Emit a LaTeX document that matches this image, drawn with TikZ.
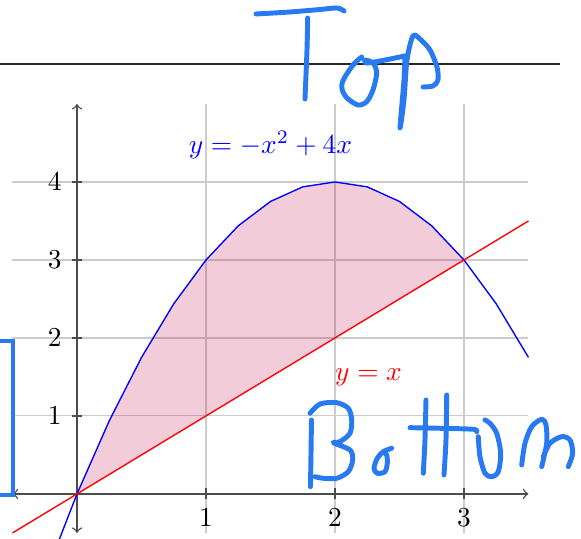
\documentclass[tikz,border=0pt]{standalone}
\usepackage{amsmath}
\definecolor{ink}{RGB}{40,122,240}
\tikzset{
  grd/.style    ={draw=black!20, line width=0.4pt},
  axs/.style    ={black!70, line width=0.5pt},
  crv/.style    ={line width=0.5pt},
  region/.style ={fill=purple, fill opacity=0.2},
  hand/.style   ={ink, line width=1.8pt, line cap=round, line join=round},
  rule/.style   ={black!85, line width=0.6pt},
}

\begin{document}
\begin{tikzpicture}[x=1.654cm, y=1cm]
  \useasboundingbox (-0.5969,-0.5769) rectangle (3.907,6.3333);
  \clip (-0.5969,-0.5769) rectangle (3.907,6.3333);

  % grid and the region between the two curves
  \foreach \i in {1,2,3}
    \draw[grd] (\i,-0.5) -- (\i,5);
  \foreach \i in {1,...,4}
    \draw[grd] (-0.5,\i) -- (3.5,\i);
  \fill[region] (0,0) -- plot[domain=0:3, samples=13] (\x,{-\x*\x+4*\x}) -- cycle;

  % axes with ticks
  \draw[axs,<->] (-0.5,0) -- (3.5,0);
  \draw[axs,<->] (0,-0.5) -- (0,5);
  \foreach \i in {1,2,3}
    \draw[axs] (\i,0) ++(0pt,2pt) -- ++(0pt,-4pt) node[below, black] (xt\i) {$\i$};
  \foreach \i in {1,...,4}
    \draw[axs] (0,\i) ++(2pt,0pt) -- ++(-4pt,0pt) node[left, black] (yt\i) {$\i$};

  % curves
  \draw[crv, blue] plot[domain=-0.25:3.5, samples=16] (\x,{-\x*\x+4*\x});
  \draw[crv, red] (-0.5,-0.5) -- (3.5,3.5);
  \node[blue] (parab) at (1.5,4.47) {$y=-x^2+4x$};
  \node[red]  (diag)  at (2.26,1.5) {$y=x$};

  % annotations, in pixel units of the page
  \begin{scope}[shift={(-0.5969,6.3333)}, x=0.3648pt, y=-0.3648pt]
    \draw[rule] (-5,64.3) -- (560,64.3);
    \draw[ink, line width=1.5pt] (-20,340.7) rectangle (13.3,495);

    % Top
    \draw[hand] plot[smooth] coordinates {(256,14) (290,12) (320,9.5) (337,8) (344,11)};
    \draw[hand] plot[smooth] coordinates {(307.7,18) (307,50) (305,99)};
    \draw[hand] plot[smooth] coordinates {(361.7,57) (353,65) (343.3,80) (342,89) (347,98)
      (358,105) (366.7,101.7) (373,90) (376.7,73) (373,63) (365,60) (366,63)
      (380,61) (405,56)};
    \draw[hand] plot[smooth] coordinates {(405,56) (404,80) (400,128) (404,100) (407,60)
      (413,36) (420,39) (430,50) (437,67) (438,80) (433,86) (423,87)};

    % Bottom
    \draw[hand] plot[smooth] coordinates {(311.5,420) (311,455) (310.5,486.7)};
    \draw[hand] plot[smooth] coordinates {(310,413.3) (320,404) (336.7,402.7) (348.3,408.3)
      (351.7,420) (350,433.3) (340,441.7) (333.3,442.7) (350,450) (352.7,460)
      (348.3,471.7) (336.7,478.3) (323.3,478.3) (315,476.7)};
    \draw[hand] plot[smooth] coordinates {(391.7,448.3) (383.3,451.7) (377.3,458.3) (374,468.3)
      (377.3,473.3) (385,471.7) (387.3,463.3) (386.7,455) (383.3,451.7)};
    \draw[hand] plot[smooth] coordinates {(426,400) (425,440) (423.3,473.3)};
    \draw[hand] plot[smooth] coordinates {(446.7,395) (446,440) (444,475)};
    \draw[hand] plot[smooth] coordinates {(410,427.7) (440,428.3) (473.3,429.3) (476.7,431.7)};
    \draw[hand] plot[smooth] coordinates {(478.3,436.7) (480,456.7) (485,473.3) (491.7,476.7)
      (498.3,471.7) (500.7,453.3) (496.7,433.3) (490,423.3) (485,420)};
    \draw[hand] plot[smooth] coordinates {(521.7,465) (525,443.3) (531.7,426.7) (541.7,419.3)
      (546,425) (546.7,443.3) (541.7,466.7)};
    \draw[hand] plot[smooth] coordinates {(543.3,456.7) (550,443.3) (561.7,436.7) (570,440)
      (572.7,453.3) (568.3,466.7)};
  \end{scope}
\end{tikzpicture}
\end{document}
